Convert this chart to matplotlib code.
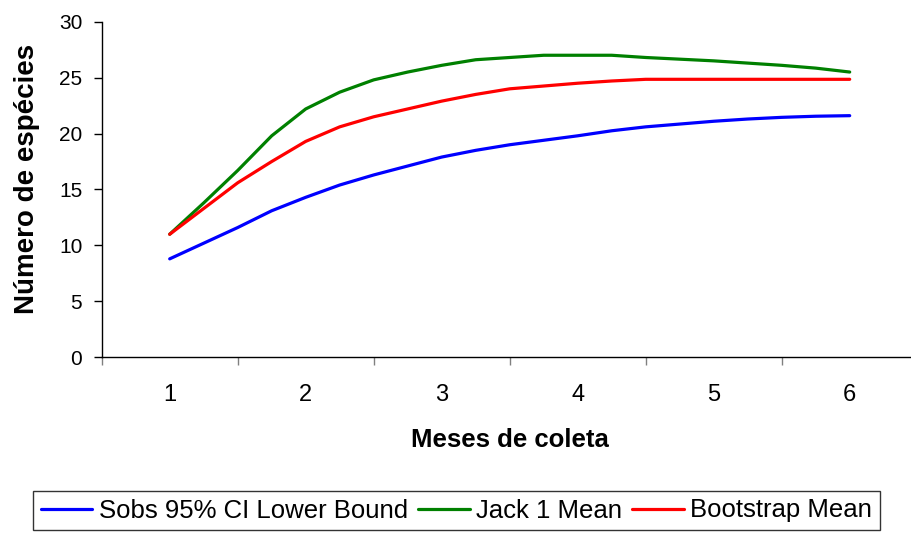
"""
Curvas de acumulação de espécies (Sobs IC 95%, Jack 1, Bootstrap)
por meses de coleta. Saída: out.png
"""

import matplotlib
matplotlib.use("Agg")
import matplotlib.pyplot as plt
from matplotlib.ticker import FixedLocator, NullFormatter

plt.rcParams["font.family"] = ["Liberation Sans", "DejaVu Sans"]

OUT_PATH = "out.png"

# amostras (4 por mês), eixo x em meses
meses = [1, 1.25, 1.5, 1.75, 2, 2.25, 2.5, 2.75, 3, 3.25, 3.5,
         3.75, 4, 4.25, 4.5, 4.75, 5, 5.25, 5.5, 5.75, 6]
mes_labels = ["1", "2", "3", "4", "5", "6"]

sobs_lower = [8.8, 10.2, 11.6, 13.1, 14.3, 15.4, 16.3, 17.1, 17.9, 18.5, 19.0,
              19.4, 19.8, 20.25, 20.6, 20.85, 21.1, 21.3, 21.45, 21.55, 21.6]
jack1_mean = [11.0, 13.8, 16.7, 19.8, 22.2, 23.7, 24.8, 25.5, 26.1, 26.6, 26.8,
              27.0, 27.0, 27.0, 26.8, 26.65, 26.5, 26.3, 26.1, 25.85, 25.5]
boot_mean = [11.0, 13.3, 15.6, 17.5, 19.3, 20.6, 21.5, 22.2, 22.9, 23.5, 24.0,
             24.25, 24.5, 24.7, 24.85, 24.85, 24.85, 24.85, 24.85, 24.85, 24.85]


def plot():
    fig = plt.figure(figsize=(9.11, 5.35), dpi=100)
    ax = fig.add_axes([101.7 / 911, 177.7 / 535, 816 / 911, 335.6 / 535])

    ax.plot(meses, sobs_lower, color="#0000FF", lw=2.3, label="Sobs 95% CI Lower Bound",
            solid_capstyle="round")
    ax.plot(meses, jack1_mean, color="#008000", lw=2.3, label="Jack 1 Mean",
            solid_capstyle="round")
    ax.plot(meses, boot_mean, color="#FF0000", lw=2.3, label="Bootstrap Mean",
            solid_capstyle="round")

    ax.set_xlim(0.5, 6.5)
    ax.set_ylim(0, 30)
    ax.set_yticks(range(0, 31, 5))

    # ticks entre categorias, rótulos no centro
    ax.xaxis.set_major_locator(FixedLocator([0.5 + i for i in range(7)]))
    ax.xaxis.set_major_formatter(NullFormatter())
    ax.xaxis.set_minor_locator(FixedLocator(range(1, 7)))
    ax.set_xticklabels(mes_labels, minor=True)
    ax.tick_params(axis="x", which="major", length=6, width=1, color="#808080")
    ax.tick_params(axis="x", which="minor", length=0, pad=19, labelsize=17)
    ax.tick_params(axis="y", length=6, width=1, pad=8, labelsize=15)

    for side in ("top", "right"):
        ax.spines[side].set_visible(False)
    for side in ("left", "bottom"):
        ax.spines[side].set_linewidth(1)

    ax.set_xlabel("Meses de coleta", fontsize=18.5, fontweight="bold")
    ax.xaxis.set_label_coords(0.5, -0.21)
    ax.set_ylabel("Número de espécies", fontsize=20, fontweight="bold")
    ax.yaxis.set_label_coords(-0.076, 0.53)

    leg = fig.legend(loc="center", bbox_to_anchor=(456.5 / 911, 24.5 / 535), ncol=3,
                     fontsize=18.5, frameon=True, fancybox=False, edgecolor="black",
                     handlelength=2.0, handletextpad=0.25, columnspacing=0.4,
                     borderpad=0.3, borderaxespad=0)
    leg.get_frame().set_linewidth(1)

    fig.savefig(OUT_PATH, dpi=100)
    print(f"Figura salva -> {OUT_PATH}")


if __name__ == "__main__":
    plot()
